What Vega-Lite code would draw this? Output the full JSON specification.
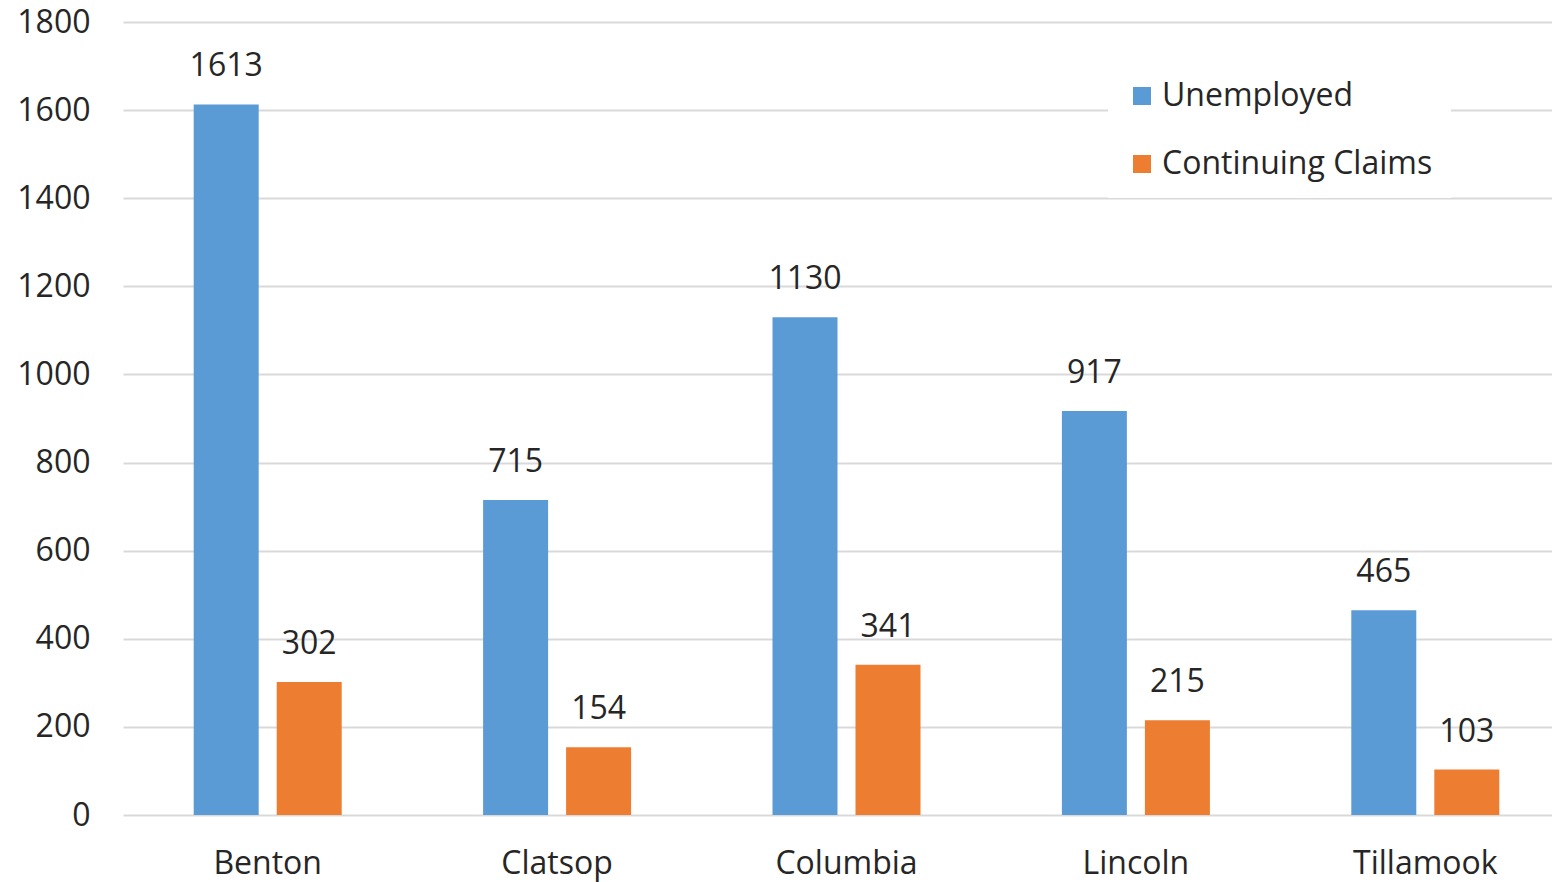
{
  "$schema": "https://vega.github.io/schema/vega-lite/v6.json",
  "autosize": {"type": "none"},
  "width": 1429,
  "height": 793,
  "padding": {"left": 123, "top": 22, "right": 0, "bottom": 67},
  "background": "white",
  "config": {
    "font": "Open Sans",
    "view": {"stroke": null},
    "axis": {"labelFont": "Open Sans", "labelFontSize": 32, "labelColor": "#262626"}
  },
  "data": {
    "values": [
      {"county": "Benton", "series": "Unemployed", "value": 1613},
      {"county": "Benton", "series": "Continuing Claims", "value": 302},
      {"county": "Clatsop", "series": "Unemployed", "value": 715},
      {"county": "Clatsop", "series": "Continuing Claims", "value": 154},
      {"county": "Columbia", "series": "Unemployed", "value": 1130},
      {"county": "Columbia", "series": "Continuing Claims", "value": 341},
      {"county": "Lincoln", "series": "Unemployed", "value": 917},
      {"county": "Lincoln", "series": "Continuing Claims", "value": 215},
      {"county": "Tillamook", "series": "Unemployed", "value": 465},
      {"county": "Tillamook", "series": "Continuing Claims", "value": 103}
    ]
  },
  "encoding": {
    "x": {
      "field": "county", "type": "nominal", "sort": null,
      "scale": {"range": [0, 1447], "paddingInner": 0.4886, "paddingOuter": 0.2443},
      "axis": {"title": null, "labelAngle": 0, "domain": false, "ticks": false, "labelPadding": 33}
    },
    "xOffset": {
      "field": "series", "type": "nominal",
      "sort": ["Unemployed", "Continuing Claims"],
      "scale": {"paddingInner": 0.217, "paddingOuter": 0}
    },
    "y": {
      "field": "value", "type": "quantitative",
      "scale": {"domain": [0, 1800]},
      "axis": {"title": null, "format": "d", "values": [0,200,400,600,800,1000,1200,1400,1600,1800], "domain": false, "ticks": false, "labelPadding": 33, "gridColor": "#d9d9d9", "gridWidth": 2}
    }
  },
  "layer": [
    {
      "mark": {"type": "bar"},
      "encoding": {
        "color": {
          "field": "series", "type": "nominal",
          "sort": ["Unemployed", "Continuing Claims"],
          "scale": {"domain": ["Unemployed", "Continuing Claims"], "range": ["#5B9BD5", "#ED7D31"]},
          "legend": {
            "title": null, "orient": "none", "legendX": 985, "legendY": 40,
            "fillColor": "white", "padding": 18,
            "symbolType": "square", "symbolSize": 324, "symbolStrokeWidth": 0,
            "labelFontSize": 32, "labelColor": "#262626", "labelFont": "Open Sans",
            "rowPadding": 36, "labelOffset": 4, "labelLimit": 400
          }
        }
      }
    },
    {
      "mark": {"type": "text", "baseline": "middle", "dy": -38, "fontSize": 32, "color": "#262626", "font": "Open Sans"},
      "encoding": {"text": {"field": "value", "type": "quantitative"}}
    }
  ]
}
